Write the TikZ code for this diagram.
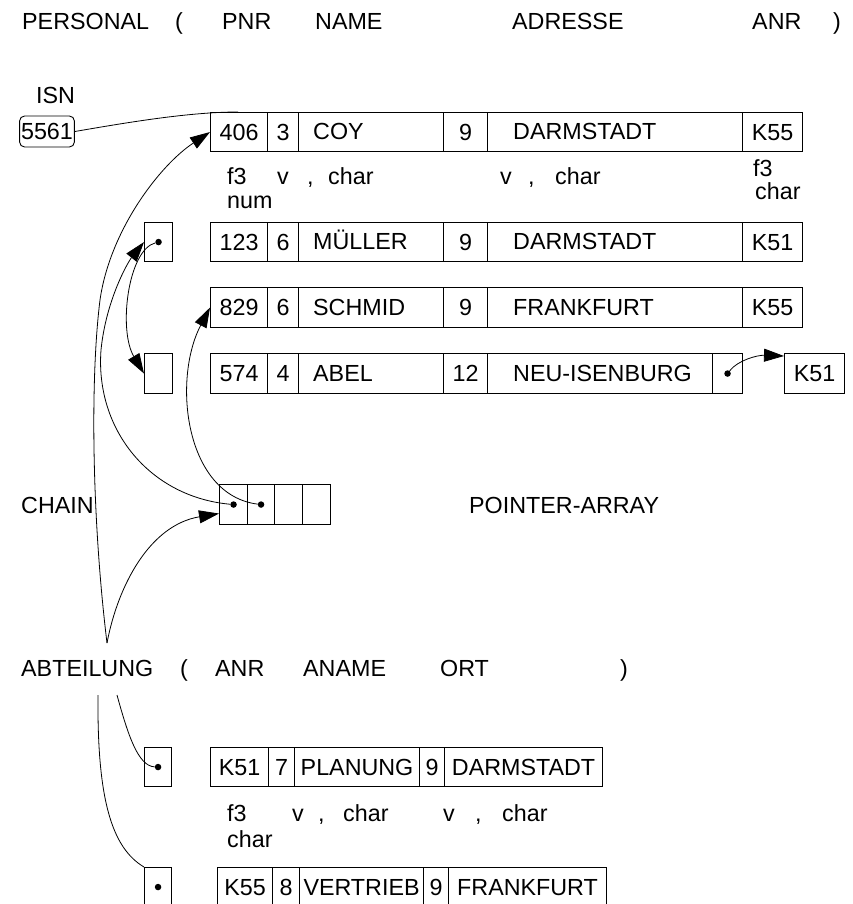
\documentclass[tikz,border=0pt]{standalone}
\usepackage{fontspec}
\setmainfont{Liberation Sans}
\usetikzlibrary{arrows.meta}
\newcommand\fs{\fontsize{23.3pt}{28pt}\selectfont}
\newcommand\mybox[5]{\node[cellb, minimum width={(#4-#2)*1pt}, minimum height={(#5-#3)*1pt}] (#1) at (#2,#3) {};}
\newcommand\mycellc[6]{\mybox{#1}{#2}{#3}{#4}{#5}\node[ct] (#1t) at (#1.center) {#6};}
\newcommand\mycelll[7]{\mybox{#1}{#2}{#3}{#4}{#5}\node[ct, anchor=west] (#1t) at (#6,{(#3+#5)/2}) {#7};}
\begin{document}
\begin{tikzpicture}[x=1pt,y=-1pt,
  cellb/.style={draw, line width=1.1pt, inner sep=0pt, anchor=north west},
  ct/.style={inner sep=0pt, text height=16.7pt, text depth=0pt, font=\fs},
  lb/.style={inner sep=0pt, anchor=base west, font=\fs},
  dotn/.style={circle, fill, inner sep=0pt, minimum size=6.5pt},
  conn/.style={line width=0.8pt},
  arr/.style={conn, -{Triangle[length=20pt,width=13pt]}}]
\useasboundingbox (0,0) rectangle (852,904);

% header
\node[lb] (hP) at (22,30) {PERSONAL};
\node[lb] (hpa) at (175,30) {(};
\node[lb] (hPNR) at (222,30) {PNR};
\node[lb] (hNAME) at (315,30) {NAME};
\node[lb] (hADR) at (512,30) {ADRESSE};
\node[lb] (hANR) at (752,30) {ANR};
\node[lb] (hpb) at (833,30) {)};

% ISN
\node[lb] (isnl) at (36,104) {ISN};
\node[draw, rounded corners=5pt, line width=0.9pt, inner sep=1.5pt, minimum height=31pt,
      text height=16.7pt, text depth=0pt, font=\fs] (isn) at (47,131.5) {5561};

% row 1
\mycellc{r1a}{210}{112}{267}{151}{406}
\mycellc{r1b}{267}{112}{298}{151}{3}
\mycelll{r1c}{298}{112}{443}{151}{313}{COY}
\mycellc{r1d}{443}{112}{487}{151}{9}
\mycelll{r1e}{487}{112}{742}{151}{513}{DARMSTADT}
\mycellc{r1f}{742}{112}{802}{151}{K55}

% annotations row 1
\node[lb] (a1) at (227,185) {f3};
\node[lb] (a2) at (277,185) {v};
\node[lb] (a3) at (307,185) {,};
\node[lb] (a4) at (328,185) {char};
\node[lb] (a5) at (227,208) {num};
\node[lb] (a6) at (500,185) {v};
\node[lb] (a7) at (528,185) {,};
\node[lb] (a8) at (555,185) {char};
\node[lb] (a9) at (753,176) {f3};
\node[lb] (a10) at (755,200) {char};

% row 2
\mybox{p2}{144}{222}{172}{261}
\node[dotn] (d2) at (p2.center) {};
\mycellc{r2a}{210}{222}{267}{261}{123}
\mycellc{r2b}{267}{222}{298}{261}{6}
\mycelll{r2c}{298}{222}{443}{261}{313}{MÜLLER}
\mycellc{r2d}{443}{222}{487}{261}{9}
\mycelll{r2e}{487}{222}{742}{261}{513}{DARMSTADT}
\mycellc{r2f}{742}{222}{802}{261}{K51}

% row 3
\mycellc{r3a}{210}{287}{267}{327}{829}
\mycellc{r3b}{267}{287}{298}{327}{6}
\mycelll{r3c}{298}{287}{443}{327}{313}{SCHMID}
\mycellc{r3d}{443}{287}{487}{327}{9}
\mycelll{r3e}{487}{287}{742}{327}{513}{FRANKFURT}
\mycellc{r3f}{742}{287}{802}{327}{K55}

% row 4
\mybox{p4}{144}{353}{172}{393}
\mycellc{r4a}{210}{353}{267}{393}{574}
\mycellc{r4b}{267}{353}{298}{393}{4}
\mycelll{r4c}{298}{353}{443}{393}{313}{ABEL}
\mycellc{r4d}{443}{353}{487}{393}{12}
\mycelll{r4e}{487}{353}{712}{393}{513}{NEU-ISENBURG}
\mybox{r4f}{712}{353}{742}{393}
\node[dotn] (d4) at (r4f.center) {};
\mycellc{k51}{784}{353}{844}{393}{K51}

% chain / pointer array
\node[lb] (chain) at (21,513) {CHAIN};
\mybox{pa1}{219}{484}{247}{524}
\mybox{pa2}{247}{484}{274}{524}
\mybox{pa3}{274}{484}{302}{524}
\mybox{pa4}{302}{484}{330}{524}
\node[dotn] (pad1) at (pa1.center) {};
\node[dotn] (pad2) at (pa2.center) {};
\node[lb] (parr) at (469,513) {POINTER-ARRAY};

% ABTEILUNG header
\node[lb] (abt) at (21,676) {ABTEILUNG};
\node[lb] (apa) at (180,676) {(};
\node[lb] (aANR) at (215,676) {ANR};
\node[lb] (aANAME) at (303,676) {ANAME};
\node[lb] (aORT) at (440,676) {ORT};
\node[lb] (apb) at (620,676) {)};

% bottom row 1
\mybox{b1}{144}{747}{171}{786}
\node[dotn] (bd1) at (b1.center) {};
\mycellc{s1a}{210}{747}{268}{786}{K51}
\mycellc{s1b}{268}{747}{294}{786}{7}
\mycellc{s1c}{294}{747}{419}{786}{PLANUNG}
\mycellc{s1d}{419}{747}{444}{786}{9}
\mycellc{s1e}{444}{747}{602}{786}{DARMSTADT}

% annotations bottom
\node[lb] (c1) at (227,821) {f3};
\node[lb] (c2) at (292,821) {v};
\node[lb] (c3) at (318,821) {,};
\node[lb] (c4) at (343,821) {char};
\node[lb] (c5) at (443,821) {v};
\node[lb] (c6) at (475,821) {,};
\node[lb] (c7) at (502,821) {char};
\node[lb] (c8) at (227,847) {char};

% bottom row 2
\mybox{b2}{144}{867}{171}{906}
\node[dotn] (bd2) at (b2.center) {};
\mycellc{s2a}{217}{867}{272}{906}{K55}
\mycellc{s2b}{272}{867}{299}{906}{8}
\mycellc{s2c}{299}{867}{423}{906}{VERTRIEB}
\mycellc{s2d}{423}{867}{448}{906}{9}
\mycellc{s2e}{448}{867}{606}{906}{FRANKFURT}

% connectors
\coordinate (abtT) at (107,643);
\coordinate (abtL) at (98,695);
\coordinate (abtR) at (117,695);
\coordinate (isnEnd) at ([xshift=28pt]r1a.north west);

\draw[conn] (isn.east) .. controls (130,122) and (190,112) .. (isnEnd);
\draw[arr] (abtT) .. controls (92,520) and (90,380) .. (100,300) .. controls (110,230) and (160,165) .. (r1a.west);
\draw[arr] (pad1) .. controls (150,497) and (95,430) .. (101,350) .. controls (106,300) and (128,262) .. (p2.west);
\draw[arr] (d2) .. controls (128,250) and (118,330) .. (p4.west);
\draw[arr] (pad2) .. controls (185,495) and (172,380) .. (r3a.west);
\draw[arr] (abtT) .. controls (118,585) and (150,525) .. ([yshift=-9pt]pa1.west);
\draw[conn] (abtR) .. controls (128,735) and (138,766) .. (bd1);
\draw[conn] (abtL) .. controls (97,800) and (112,848) .. (b2.north west);
\draw[arr] (d4) .. controls (738,360) and (758,355) .. ([yshift=-3pt]k51.north west);
\end{tikzpicture}
\end{document}
